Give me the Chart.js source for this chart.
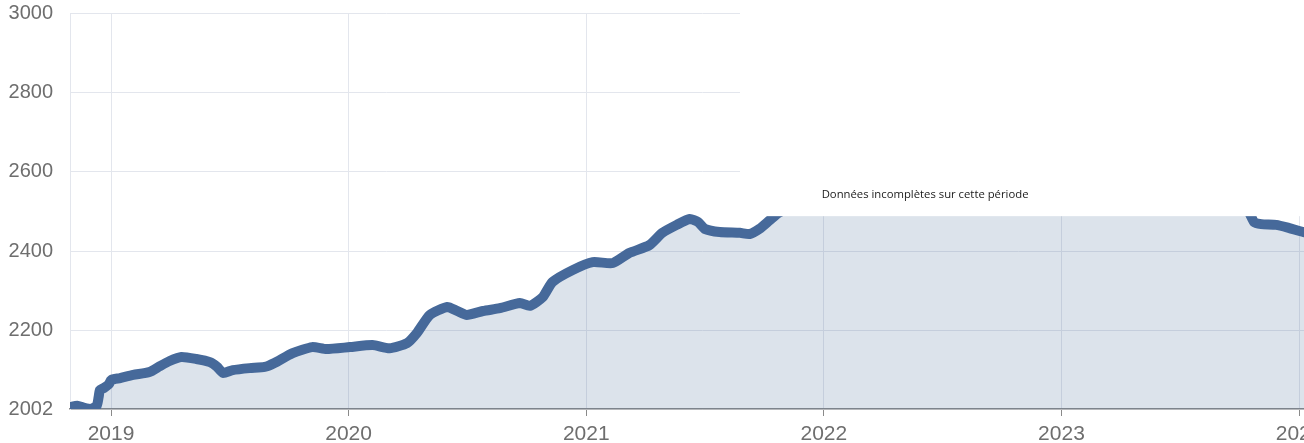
<!DOCTYPE html>
<html><head><meta charset="utf-8">
<script src="https://cdn.jsdelivr.net/npm/chart.js@4"></script>
<style>
html,body{margin:0;padding:0;overflow:hidden;background:#fff;}
#wrap{width:1334px;height:443px;position:relative;}
</style></head>
<body><div id="wrap"><canvas id="c"></canvas></div>
<script>
const dates = [
 '2018-10-31','2018-11-10','2018-11-21','2018-12-01','2018-12-10','2018-12-13','2018-12-15','2018-12-21','2018-12-29',
 '2019-01-01','2019-01-15','2019-02-04','2019-03-01','2019-03-17','2019-04-01','2019-04-19','2019-05-12','2019-06-02',
 '2019-06-13','2019-06-22','2019-07-07','2019-08-02','2019-08-25','2019-09-09','2019-10-07','2019-11-06','2019-11-28',
 '2020-01-03','2020-02-07','2020-03-04','2020-03-31','2020-04-15','2020-05-05','2020-06-01','2020-06-16','2020-07-01',
 '2020-07-26','2020-08-21','2020-09-21','2020-10-06','2020-10-26','2020-11-10','2020-12-11',
 '2021-01-11','2021-02-11','2021-03-08','2021-04-08','2021-04-28','2021-05-20','2021-06-09','2021-06-22','2021-07-02',
 '2021-07-25','2021-08-25','2021-09-09','2021-09-24','2021-10-10','2021-10-25',
 '2021-12-15','2022-03-15','2022-06-15','2022-09-15','2022-12-15','2023-03-15','2023-06-15','2023-09-15','2023-10-15',
 '2023-10-24','2023-11-04','2023-11-27','2023-12-17','2024-01-08','2024-01-25'
];
const values = [
 2007,2010,2005,2002,2010,2032,2050,2055,2065,
 2075,2080,2088,2095,2110,2123,2133,2128,2120,
 2108,2093,2100,2105,2108,2118,2143,2158,2153,
 2158,2163,2155,2168,2193,2239,2259,2249,2239,
 2249,2256,2269,2262,2284,2322,2352,
 2372,2370,2395,2415,2446,2466,2481,2473,2456,
 2448,2446,2443,2456,2478,2498,
 2530,2570,2610,2640,2650,2620,2580,2530,2500,
 2473,2468,2466,2458,2448,2445
];
const xTicks = [2019,2020,2021,2022,2023,2024];
const yTicks = [2002,2200,2400,2600,2800,3000];
const noteText = 'Données incomplètes sur cette période';
const noteBox = {from:2021.647, above:2488, textX:2022.426, textY:2541};

function toYear(s){
  const d = Date.parse(s+'T00:00:00Z');
  const y = new Date(d).getUTCFullYear();
  const a = Date.UTC(y,0,1), b = Date.UTC(y+1,0,1);
  return y + (d-a)/(b-a);
}
const points = dates.map((d,i)=>({x:toYear(d), y:values[i]}));

const notePlugin = {
  id:'note',
  afterDraw(chart){
    const ctx = chart.ctx, xs = chart.scales.x, ys = chart.scales.y;
    const left = xs.getPixelForValue(noteBox.from);
    const bottom = ys.getPixelForValue(noteBox.above);
    ctx.save();
    ctx.fillStyle = '#ffffff';
    ctx.fillRect(left, 0, chart.width - left, bottom);
    ctx.fillStyle = '#1a1a1a';
    ctx.font = '11.3px "Open Sans", sans-serif';
    ctx.textAlign = 'center';
    ctx.textBaseline = 'middle';
    ctx.fillText(noteText, xs.getPixelForValue(noteBox.textX), ys.getPixelForValue(noteBox.textY));
    ctx.restore();
  }
};

const tickFont = {family:'"Liberation Sans", Arial, sans-serif', size:20};
new Chart(document.getElementById('c'), {
  type:'line',
  data:{datasets:[{
    data:points,
    borderColor:'#46699a',
    backgroundColor:'rgba(70,105,150,0.19)',
    borderWidth:10,
    borderJoinStyle:'round',
    borderCapStyle:'round',
    pointRadius:0,
    tension:0.2,
    fill:'start'
  }]},
  options:{
    responsive:true, maintainAspectRatio:false, animation:false,
    layout:{padding:0},
    plugins:{legend:{display:false}, tooltip:{enabled:false}},
    scales:{
      x:{
        type:'linear', min:2018.8274, max:2024.147,
        afterBuildTicks(s){ s.ticks = xTicks.map(v=>({value:v})); },
        afterFit(s){ s.height = 34; s.paddingLeft = 0; s.paddingRight = 0; },
        ticks:{autoSkip:false, maxRotation:0, color:'#6e6e6e', font:{family:tickFont.family, size:21}, padding:6, callback:v=>String(v)},
        grid:{color:'#e3e6ed', tickColor:'#8a8a8a', tickLength:7},
        border:{color:'#8a8a8a', width:1.5}
      },
      y:{
        min:2002, max:3000,
        afterBuildTicks(s){ s.ticks = yTicks.map(v=>({value:v})); },
        afterFit(s){ s.width = 70; s.paddingTop = 13; s.paddingBottom = 0; },
        ticks:{color:'#6e6e6e', font:tickFont, padding:17, callback:v=>String(v)},
        grid:{color:'#e3e6ed', drawTicks:false},
        border:{color:'#e3e6ed'}
      }
    }
  },
  plugins:[notePlugin]
});
</script>
</body></html>
